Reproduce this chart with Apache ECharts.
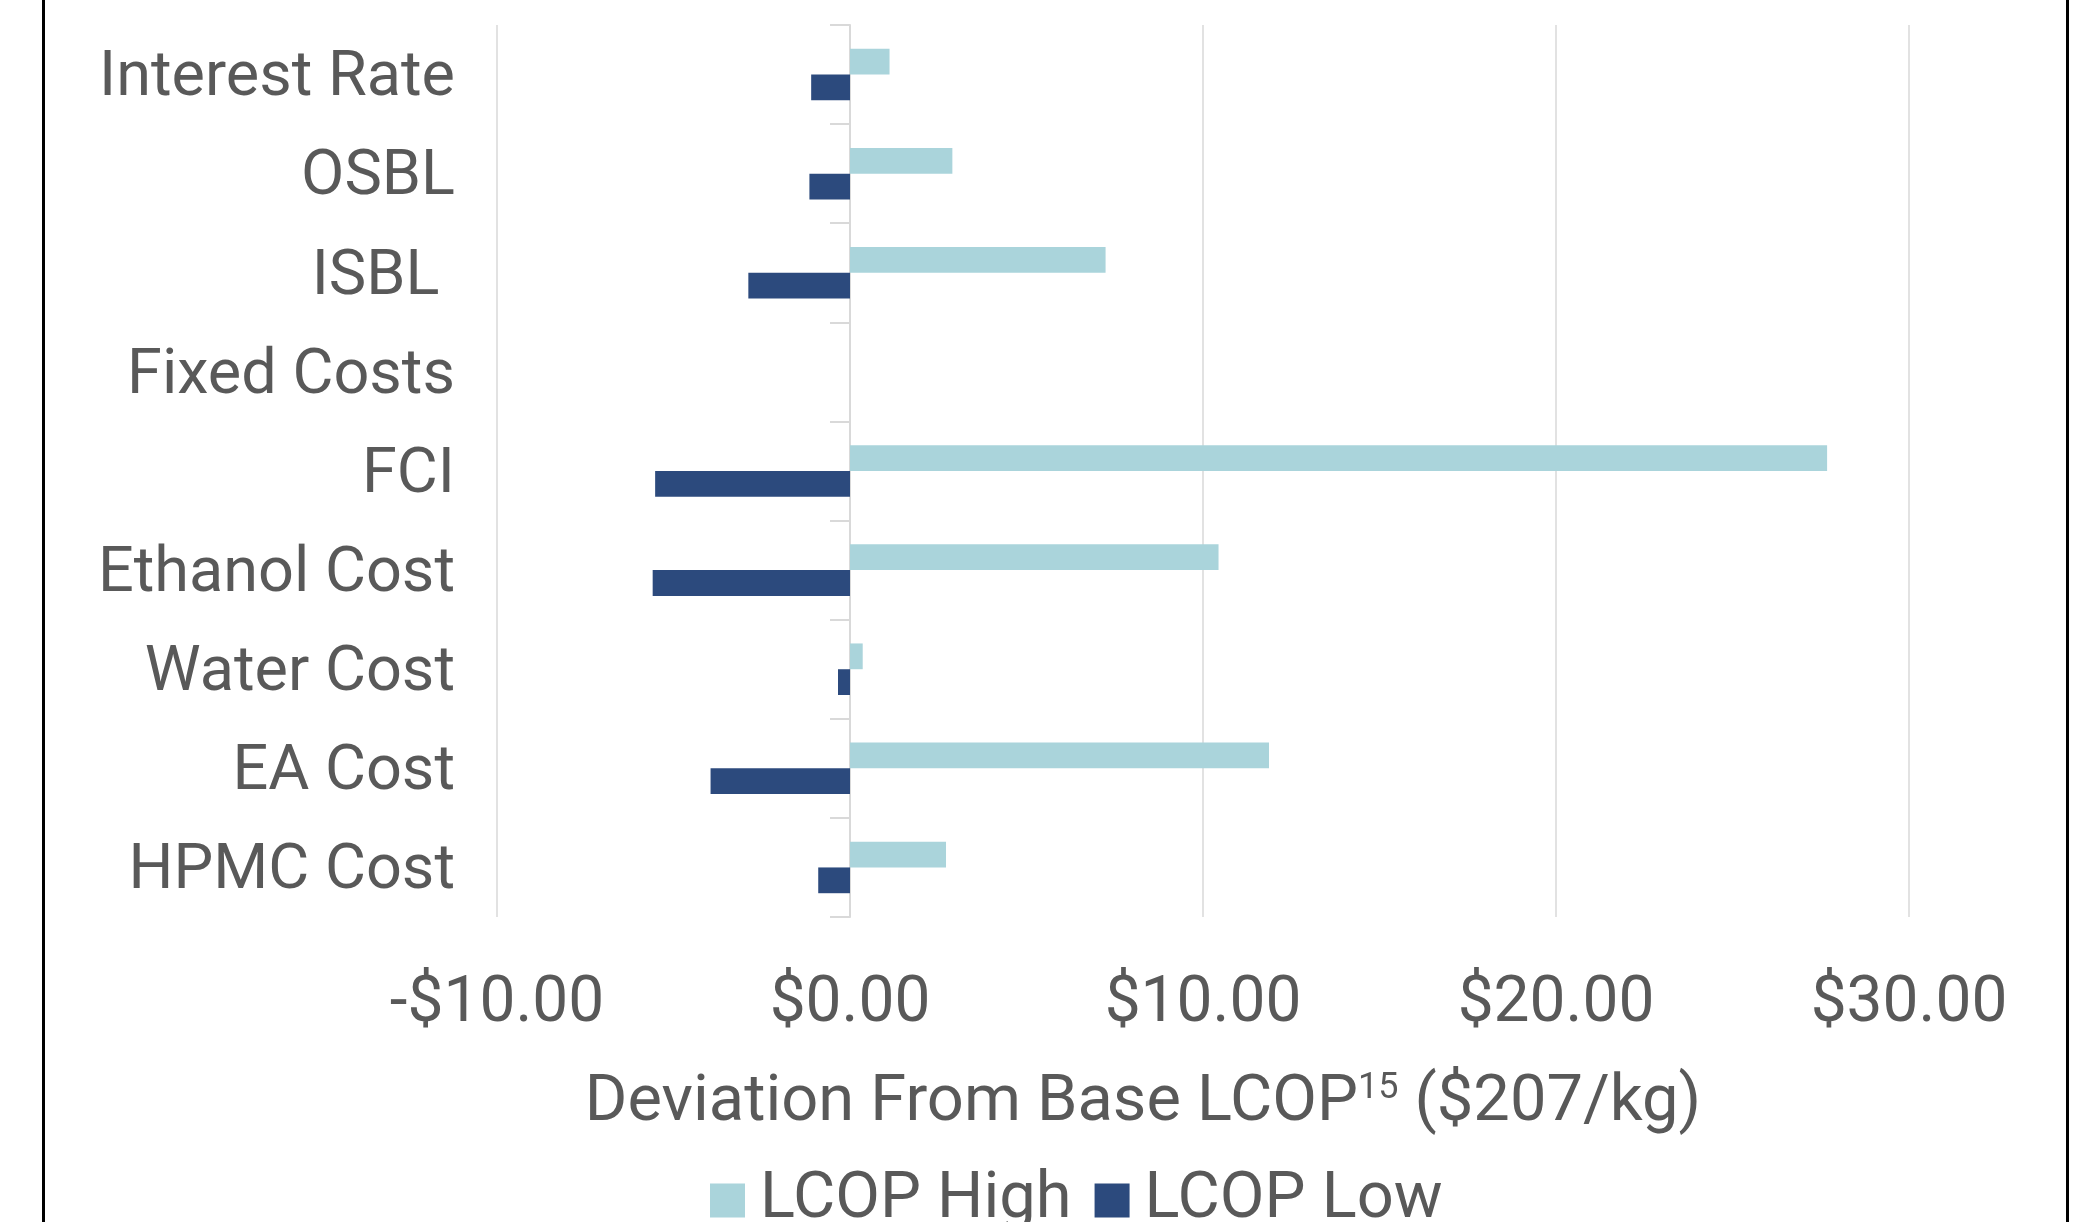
<!DOCTYPE html>
<html>
<head>
<meta charset="utf-8">
<script src="https://cdn.jsdelivr.net/npm/echarts@6/dist/echarts.min.js"></script>
<style>
  html, body { margin: 0; padding: 0; background: #ffffff; }
  #chart { width: 2095px; height: 1222px; }
</style>
</head>
<body>
<div id="chart"></div>
<script>
// Sensitivity of LCOP to each input: deviation from the base case ($/kg)
const categories = ['Interest Rate', 'OSBL', 'ISBL ', 'Fixed Costs', 'FCI', 'Ethanol Cost', 'Water Cost', 'EA Cost', 'HPMC Cost'];
const lcopHigh = [1.12, 2.90, 7.24, 0, 27.68, 10.44, 0.36, 11.87, 2.72];
const lcopLow = [-1.10, -1.15, -2.88, 0, -5.52, -5.59, -0.34, -3.95, -0.90];
const seriesNames = ['LCOP High', 'LCOP Low'];
const xMin = -10, xMax = 30, xStep = 10;

const TEXT = '#595959';
const FONT = 'Roboto, "Noto Sans", sans-serif';
const GRID_LINE = '#d9d9d9';

const money = v => (v < 0 ? '-' : '') + '$' + Math.abs(v).toFixed(2);

const chart = echarts.init(document.getElementById('chart'));
chart.setOption({
  backgroundColor: '#ffffff',
  animation: false,
  textStyle: { fontFamily: FONT, color: TEXT },
  grid: { left: 497, right: 186, top: 25, bottom: 305, containLabel: false, outerBoundsMode: 'none' },
  legend: {
    data: seriesNames,
    left: 710,
    top: 1168,
    padding: 0,
    itemGap: 23,
    itemWidth: 35,
    itemHeight: 34,
    icon: 'rect',
    textStyle: { fontSize: 65, color: TEXT, fontFamily: FONT, padding: [0, 0, 0, 10] }
  },
  xAxis: {
    type: 'value',
    min: xMin,
    max: xMax,
    interval: xStep,
    name: 'Deviation From Base LCOP{sup|15} ($207/kg)',
    nameLocation: 'middle',
    nameGap: 154,
    nameTextStyle: {
      fontSize: 65, color: TEXT, fontFamily: FONT,
      padding: [0, 120, 0, 0],
      rich: { sup: { fontSize: 36, color: TEXT, fontFamily: FONT, verticalAlign: 'top' } }
    },
    axisLine: { show: false },
    axisTick: { show: false },
    axisLabel: { fontSize: 64, color: TEXT, fontFamily: FONT, margin: 56, formatter: money },
    splitLine: { show: true, lineStyle: { color: GRID_LINE, width: 1.5 } }
  },
  yAxis: {
    type: 'category',
    data: categories,
    inverse: true,
    axisLine: { show: true, onZero: true, lineStyle: { color: GRID_LINE, width: 2 } },
    axisTick: { show: true, length: 20, lineStyle: { color: GRID_LINE, width: 2 } },
    axisLabel: {
      fontSize: 63, color: TEXT, fontFamily: FONT, margin: 42,
      formatter: v => '{c|' + v + '}',
      rich: { c: { fontSize: 63, color: TEXT, fontFamily: FONT, padding: [10, 0, 0, 0] } }
    },
    splitLine: { show: false }
  },
  series: [
    {
      name: seriesNames[0], type: 'bar', data: lcopHigh,
      barGap: '0%', barCategoryGap: '48%',
      itemStyle: { color: '#aad4db' }
    },
    {
      name: seriesNames[1], type: 'bar', data: lcopLow,
      barGap: '0%', barCategoryGap: '48%',
      itemStyle: { color: '#2c4a7d' }
    }
  ],
  graphic: [
    { type: 'rect', left: 42, top: 0, shape: { width: 3, height: 1222 }, style: { fill: '#000000' } },
    { type: 'rect', left: 2066, top: 0, shape: { width: 3, height: 1222 }, style: { fill: '#000000' } }
  ]
});
</script>
</body>
</html>
